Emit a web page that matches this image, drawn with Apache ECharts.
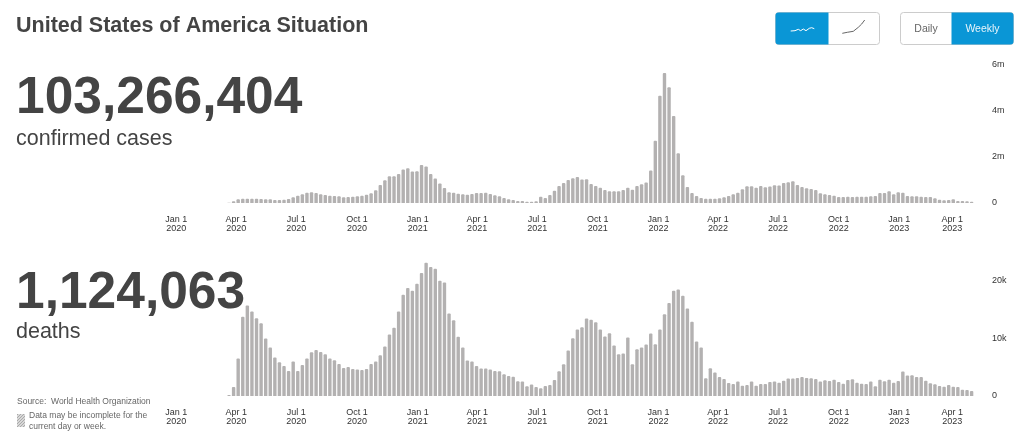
<!DOCTYPE html>
<html><head><meta charset="utf-8">
<style>html,body{margin:0;padding:0;background:#fff}#c{width:1023px;height:443px}</style>
<script src="https://cdn.jsdelivr.net/npm/echarts@6/dist/echarts.min.js"></script>
</head><body><div id="c"></div>
<script>
// weekly cases, in thousands (11 empty weeks before the first reports)
const casesK = [0,0,0,0,0,0,0,0,0,0,0,
15,73,160,189,189,189,189,174,160,160,131,131,145,174,247,320,378,450,465,436,378,349,320,305,291,247,262,276,291,320,363,421,552,785,988,1163,1163,1264,1453,1511,1366,1381,1657,1584,1264,1061,843,654,
465,450,407,378,363,392,436,436,450,392,334,291,218,160,131,87,87,58,58,73,276,218,349,538,741,872,1003,1075,1133,1017,1032,828,741,668,567,509,509,509,567,668,581,741,814,886,1409,2703,4665,5653,5028,3778,2165,1206,697,436,305,218,189,
189,189,203,247,305,378,450,596,727,727,668,741,683,712,770,756,872,901,945,785,697,639,610,567,421,378,349,320,262,262,276,262,276,276,276,291,305,436,436,509,378,465,450,305,291,291,276,262,262,203,145,116,131,160,87,87,73,58];
// weekly deaths
const deaths = [0,0,0,0,0,0,0,0,0,0,0,
170,1560,6470,13700,15660,14620,13470,12600,9940,8380,6650,5840,5200,4330,5950,4330,5375,6470,7570,7980,7630,7225,6470,6185,5550,4855,5030,4680,4570,4510,4680,5550,5950,7050,8555,10640,11790,14620,17510,18670,18200,19420,21270,23060,22310,22020,19940,19650,
14280,13120,10230,8380,6130,5950,5200,4740,4740,4570,4340,4280,3760,3470,3350,2540,2490,1680,1970,1560,1330,1730,1910,2770,4280,5490,7860,10000,11500,11910,13410,13180,12770,11500,10290,10870,8730,7230,7340,10120,5490,8090,8380,8900,10810,8960,11500,14160,16070,18210,18440,17340,15140,12830,9420,8380,3060,
4800,4050,3290,2950,2250,2080,2490,1790,1910,2490,1790,2080,2080,2430,2490,2310,2660,3010,3010,3120,3290,3120,3060,2950,2490,2720,2600,2830,2430,2140,2770,2890,2310,2140,2080,2490,1680,2830,2540,2830,2310,2600,4220,3530,3580,3290,3290,2660,2200,2020,1730,1620,1910,1620,1560,1100,1040,870];
const caseTicks = [0,2000,4000,6000];
const deathTicks = [0,10000,20000];
const weeks = casesK.map((_, i) => new Date(Date.UTC(2020, 0, 3 + 7 * i)).toISOString().slice(0, 10));
const totalCases = '103,266,404', totalDeaths = '1,124,063';

const MON = ['Jan','Feb','Mar','Apr','May','Jun','Jul','Aug','Sep','Oct','Nov','Dec'];
const tMin = Date.UTC(2020,0,1), tMax = Date.UTC(2023,3,24), lastTick = Date.UTC(2023,3,1);
const INK = '#444', BLUE = '#0a96d6', BAR = '#b3b1b1';
const GL = 176.3, GW = 797.6;
const DAY = 864e5;

function catAxis(g){ return {type:'category',gridIndex:g,data:weeks,show:false,boundaryGap:true,position:'bottom'}; }
function timeAxis(g){ return {
  type:'time',gridIndex:g,position:'bottom',min:tMin,max:tMax,minInterval:80*DAY,maxInterval:95*DAY,
  axisLine:{show:false},axisTick:{show:false},splitLine:{show:false},
  axisLabel:{
    show:true,color:'#333',fontSize:9,fontFamily:'Liberation Sans',lineHeight:9,margin:12,
    hideOverlap:false,showMinLabel:true,showMaxLabel:false,alignMinLabel:'center',alignMaxLabel:'center',
    rich:{s:{fontSize:9,lineHeight:9,color:'#333',fontFamily:'Liberation Sans',padding:[0,13,0,0]}},
    formatter:v=>{const d=new Date(v);const a=MON[d.getUTCMonth()]+' '+d.getUTCDate(),b=d.getUTCFullYear();
      return v===lastTick?`{s|${a}}\n{s|${b}}`:a+'\n'+b;}
  }};}
function valAxis(g,max,ticks,fmt){ return {
  type:'value',gridIndex:g,position:'right',min:0,max:max,
  axisLine:{show:false},axisTick:{show:false},splitLine:{show:false},
  axisLabel:{customValues:ticks,formatter:fmt,color:'#333',fontSize:9,fontFamily:'Liberation Sans',align:'left',margin:18,padding:[2,0,0,0]}
};}
function bars(name,data,xi,yi){ return {
  name,type:'bar',xAxisIndex:xi,yAxisIndex:yi,data,barWidth:3.4,silent:true,animation:false,
  itemStyle:{color:BAR,borderRadius:[1,1,0,0]}
};}
function txt(x,y,t,size,weight,color,align){ return {type:'text',x,y,silent:true,style:{
  text:t,fontFamily:'Liberation Sans',fontSize:size,fontWeight:weight||'normal',fill:color||INK,align:align||'left',verticalAlign:'middle'}};}
const hatch=document.createElement('canvas');hatch.width=hatch.height=3;
(function(){const c=hatch.getContext('2d');c.fillStyle='#d8d8d8';c.fillRect(0,0,3,3);c.strokeStyle='#aaa';c.lineWidth=1;
  c.beginPath();c.moveTo(-1,1);c.lineTo(1,-1);c.moveTo(0,3);c.lineTo(3,0);c.moveTo(2,4);c.lineTo(4,2);c.stroke();})();

const Y1=12.5,H=32;
const graphic=[
  txt(16,26,'United States of America Situation',21.5,'bold'),
  txt(16,99,totalCases,51.5,'bold'),
  txt(16,139,'confirmed cases',21.5),
  txt(16,294,totalDeaths,51.5,'bold'),
  txt(16,332,'deaths',21.5),
  txt(17,402,'Source:  World Health Organization',8.5,'normal','#666'),
  txt(29,416,'Data may be incomplete for the',8.5,'normal','#666'),
  txt(29,427,'current day or week.',8.5,'normal','#666'),
  {type:'rect',silent:true,shape:{x:17,y:414,width:8,height:13},style:{fill:{image:hatch,repeat:'repeat'}}},
  // toggle buttons
  {type:'rect',silent:true,shape:{x:775.5,y:Y1,width:104,height:H,r:3},style:{fill:'#fff',stroke:'#ccc',lineWidth:1}},
  {type:'rect',silent:true,shape:{x:775.5,y:Y1,width:53,height:H,r:[3,0,0,3]},style:{fill:BLUE}},
  {type:'polyline',silent:true,shape:{points:[[790.7,31],[795,30.7],[798.3,29.3],[800.7,30.7],[803.3,29],[806,30.7],[809.3,28.3],[811.7,27.7],[814.3,28.7]]},style:{stroke:'#fff',fill:null,lineWidth:1}},
  {type:'polyline',silent:true,shape:{points:[[842.3,33.3],[847.3,32.3],[853.3,31.3],[858.3,27.3],[861.7,24],[864.7,20]]},style:{stroke:'#666',fill:null,lineWidth:1}},
  {type:'rect',silent:true,shape:{x:900.5,y:Y1,width:113,height:H,r:3},style:{fill:'#fff',stroke:'#ccc',lineWidth:1}},
  {type:'rect',silent:true,shape:{x:951.5,y:Y1,width:62,height:H,r:[0,3,3,0]},style:{fill:BLUE}},
  txt(926,29,'Daily',10.5,'normal','#666','center'),
  txt(982.5,29,'Weekly',10.5,'normal','#e8f4fb','center')
];

const chart=echarts.init(document.getElementById('c'),null,{renderer:'canvas',useUTC:true});
chart.setOption({
  useUTC:true,animation:false,backgroundColor:'#fff',
  grid:[
    {left:GL,width:GW,top:65,height:138},
    {left:GL,width:GW,top:251.5,height:144.5}
  ],
  xAxis:[catAxis(0),timeAxis(0),catAxis(1),timeAxis(1)],
  yAxis:[
    valAxis(0,6000,caseTicks,v=>v===0?'0':(v/1000)+'m'),
    valAxis(1,25000,deathTicks,v=>v===0?'0':(v/1000)+'k')
  ],
  series:[bars('Confirmed cases (thousands)',casesK,0,0),bars('Deaths',deaths,2,1)],
  graphic
});
</script></body></html>
